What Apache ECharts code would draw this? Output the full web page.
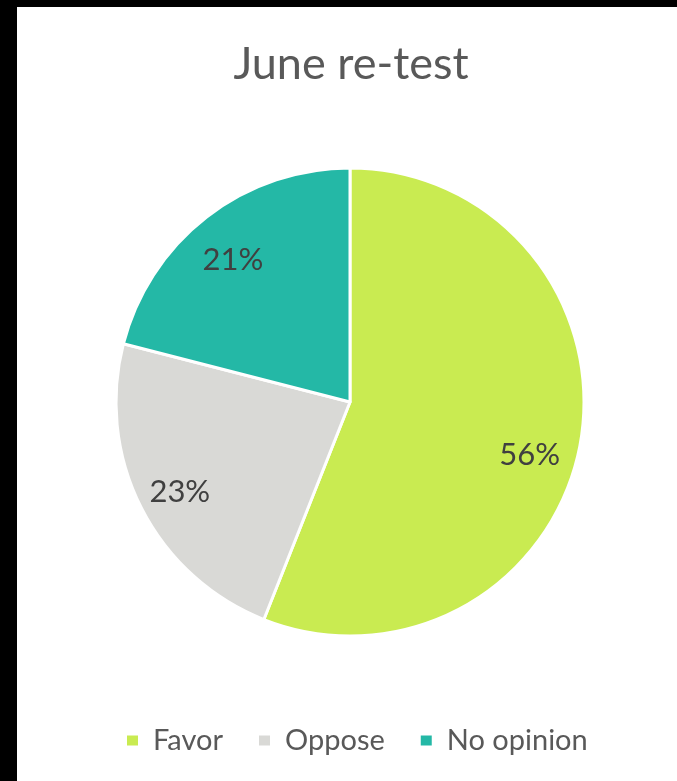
<!DOCTYPE html>
<html>
<head>
<meta charset="utf-8">
<script src="https://cdn.jsdelivr.net/npm/echarts@6/dist/echarts.min.js"></script>
<style>
  html, body { margin: 0; padding: 0; background: #000; width: 677px; height: 781px; overflow: hidden; }
  #chart { position: absolute; left: 17px; top: 7px; width: 660px; height: 774px; background: #fff; }
</style>
</head>
<body>
<div id="chart"></div>
<script>
// Survey results for the June re-test
const categories = ['Favor', 'Oppose', 'No opinion'];
const shares = [56, 23, 21];
const colors = ['#C9EB51', '#D9D9D6', '#24B8A6'];

const FONT = 'Lato, "Open Sans", sans-serif';

const pieData = categories.map((name, i) => ({ name, value: shares[i] }));

// label nudges so the larger slice's text sits a little lower and inward
const labelOffsets = [[-8, 17], [0, 3], [0, 9]];

const chart = echarts.init(document.getElementById('chart'), null, { renderer: 'canvas' });

chart.setOption({
  animation: false,
  backgroundColor: '#fff',
  color: colors,
  title: {
    text: 'June re-test',
    left: 329,
    textAlign: 'center',
    top: 30,
    textStyle: { fontFamily: FONT, fontSize: 45, fontWeight: 'normal', color: '#595959' }
  },
  legend: {
    data: categories,
    left: 103,
    top: 714,
    icon: 'rect',
    itemWidth: 13,
    itemHeight: 12,
    itemGap: 34,
    textStyle: { fontFamily: FONT, fontSize: 29, color: '#595959', padding: [0, 0, 0, 9] }
  },
  series: [
    {
      // slices
      type: 'pie',
      center: [333, 395],
      radius: [0, 234],
      startAngle: 90,
      clockwise: true,
      data: pieData,
      label: { show: false },
      labelLine: { show: false },
      itemStyle: { borderColor: '#fff', borderWidth: 3 },
      emphasis: { disabled: true }
    },
    {
      // percentage labels placed near the rim
      type: 'pie',
      center: [333, 395],
      radius: [142, 234],
      startAngle: 90,
      clockwise: true,
      silent: true,
      legendHoverLink: false,
      data: pieData.map((d, i) => ({ ...d, label: { offset: labelOffsets[i] } })),
      itemStyle: { color: 'rgba(0,0,0,0)', borderWidth: 0 },
      label: {
        show: true,
        position: 'inner',
        formatter: p => p.value + '%',
        fontFamily: FONT,
        fontSize: 31,
        color: '#404040'
      },
      labelLine: { show: false },
      emphasis: { disabled: true }
    }
  ]
});
</script>
</body>
</html>
